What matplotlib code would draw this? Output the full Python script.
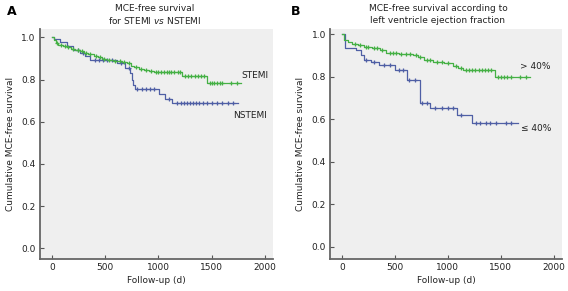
import numpy as np
import matplotlib
matplotlib.use("Agg")
import matplotlib.pyplot as plt

# --- Panel A: STEMI vs NSTEMI (step times in days, survival after step) ---
stemi_t = [0, 15, 35, 60, 100, 140, 180, 220, 260, 300, 340, 390, 430, 470, 520, 570, 610, 660, 700,
           740, 770, 820, 860, 910, 960, 1225, 1460, 1775]
stemi_s = [1.0, 0.985, 0.975, 0.965, 0.958, 0.952, 0.946, 0.94, 0.934, 0.927, 0.92, 0.912, 0.905, 0.899,
           0.894, 0.89, 0.886, 0.882, 0.878, 0.866, 0.857, 0.852, 0.847, 0.842, 0.837, 0.816, 0.783, 0.783]
stemi_cens = [50, 80, 120, 150, 200, 240, 280, 320, 360, 410, 450, 490, 540, 590, 640, 680, 720, 790,
              840, 880, 930, 980, 1000, 1020, 1050, 1080, 1100, 1120, 1150, 1180, 1200, 1250, 1280, 1310,
              1340, 1370, 1400, 1430, 1480, 1500, 1520, 1550, 1580, 1600, 1680, 1740]

nstemi_t = [0, 20, 75, 140, 200, 265, 310, 360, 610, 690, 735, 750, 765, 780, 1005, 1060, 1130, 1745]
nstemi_s = [1.0, 0.99, 0.978, 0.958, 0.94, 0.925, 0.91, 0.894, 0.878, 0.854, 0.83, 0.80, 0.775, 0.756,
            0.73, 0.708, 0.688, 0.688]
nstemi_cens = [240, 290, 400, 440, 480, 520, 560, 650, 720, 800, 850, 880, 920, 960, 1100, 1170, 1210,
               1240, 1270, 1300, 1320, 1350, 1380, 1420, 1460, 1500, 1550, 1600, 1650, 1700]

# --- Panel B: LVEF > 40% vs <= 40% ---
high_t = [0, 20, 60, 90, 150, 205, 280, 360, 420, 540, 675, 720, 770, 860, 960, 1050, 1100, 1145, 1443, 1772]
high_s = [1.0, 0.975, 0.965, 0.957, 0.95, 0.943, 0.935, 0.927, 0.912, 0.908, 0.904, 0.892, 0.88, 0.872,
          0.865, 0.849, 0.84, 0.831, 0.80, 0.80]
high_cens = [120, 170, 230, 250, 300, 330, 380, 450, 480, 510, 560, 600, 640, 700, 740, 800, 830, 900,
             940, 1000, 1080, 1120, 1170, 1200, 1230, 1260, 1290, 1320, 1350, 1380, 1410, 1470, 1500,
             1530, 1560, 1600, 1680, 1740]

low_t = [0, 30, 130, 175, 205, 270, 350, 505, 613, 660, 735, 832, 1083, 1224, 1662]
low_s = [1.0, 0.936, 0.927, 0.904, 0.88, 0.87, 0.857, 0.833, 0.786, 0.786, 0.676, 0.653, 0.621, 0.582, 0.582]
low_cens = [230, 300, 400, 450, 540, 580, 630, 690, 760, 800, 880, 940, 1000, 1050, 1120, 1270, 1300, 1360,
            1400, 1450, 1550, 1600]

GREEN = '#45b045'
BLUE = '#4f5fa5'
BG = '#efefef'
FS = 6.5


def km_curve(ax, t, s, cens, color):
    ax.step(t, s, where='post', color=color, linewidth=0.9)
    idx = np.searchsorted(t, cens, side='right') - 1
    ax.plot(cens, np.array(s)[idx], linestyle='none', marker='+', color=color,
            markersize=3.5, markeredgewidth=0.9)


def style_axes(ax, ylim):
    ax.set_facecolor(BG)
    ax.set_xlim(-113, 2075)
    ax.set_ylim(*ylim)
    ax.set_xticks([0, 500, 1000, 1500, 2000])
    ax.set_yticks([0.0, 0.2, 0.4, 0.6, 0.8, 1.0])
    ax.set_yticklabels(['0.0', '0.2', '0.4', '0.6', '0.8', '1.0'])
    for side in ['top', 'right']:
        ax.spines[side].set_visible(False)
    for side in ['left', 'bottom']:
        ax.spines[side].set_color('#666666')
        ax.spines[side].set_linewidth(1.3)
    ax.tick_params(direction='in', length=3, width=0.8, color='#555555',
                   labelsize=FS, labelcolor='#222222', pad=3)
    ax.set_xlabel('Follow-up (d)', fontsize=FS, color='#222222', labelpad=3)
    ax.set_ylabel('Cumulative MCE-free survival', fontsize=FS, color='#222222', labelpad=5)


fig = plt.figure(figsize=(5.68, 2.91), dpi=100)
fig.patch.set_facecolor('white')

# Panel A
axA = fig.add_axes([0.0704, 0.110, 0.410, 0.790])
km_curve(axA, nstemi_t, nstemi_s, nstemi_cens, BLUE)
km_curve(axA, stemi_t, stemi_s, stemi_cens, GREEN)
style_axes(axA, (-0.051, 1.039))
axA.text(1775, 0.817, 'STEMI', fontsize=FS, color='#222222', va='center')
axA.text(1700, 0.63, 'NSTEMI', fontsize=FS, color='#222222', va='center')
fig.text(0.273, 0.972, 'MCE-free survival', fontsize=FS, ha='center', va='center', color='#222222')
fig.text(0.273, 0.930, 'for STEMI $\\it{vs}$ NSTEMI', fontsize=FS, ha='center', va='center', color='#222222')
fig.text(0.012, 0.962, 'A', fontsize=9, fontweight='bold', va='center')

# Panel B
axB = fig.add_axes([0.581, 0.110, 0.408, 0.790])
km_curve(axB, low_t, low_s, low_cens, BLUE)
km_curve(axB, high_t, high_s, high_cens, GREEN)
style_axes(axB, (-0.058, 1.025))
axB.text(1678, 0.849, '> 40%', fontsize=FS, color='#222222', va='center')
axB.text(1690, 0.558, '≤ 40%', fontsize=FS, color='#222222', va='center')
fig.text(0.771, 0.972, 'MCE-free survival according to', fontsize=FS, ha='center', va='center', color='#222222')
fig.text(0.771, 0.930, 'left ventricle ejection fraction', fontsize=FS, ha='center', va='center', color='#222222')
fig.text(0.512, 0.962, 'B', fontsize=9, fontweight='bold', va='center')

fig.savefig('out.png', dpi=100)
